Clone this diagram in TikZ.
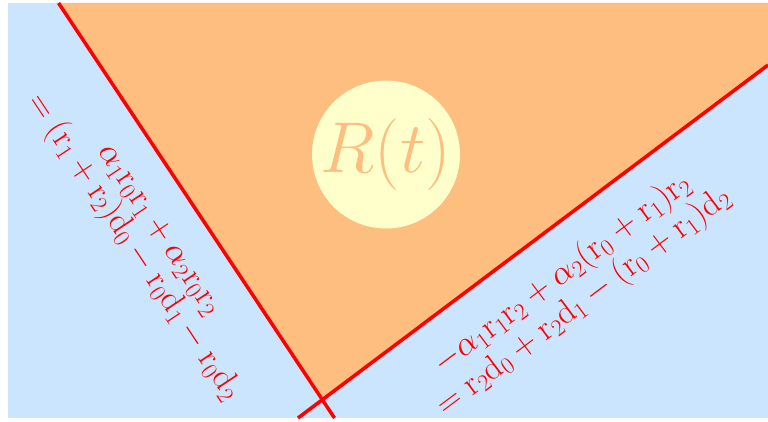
\RequirePackage{fix-cm}
\documentclass[tikz,border=0pt]{standalone}
\definecolor{bgblue}{RGB}{204,229,255}
\definecolor{regorange}{RGB}{253,190,128}
\definecolor{circyellow}{RGB}{255,255,204}
\definecolor{linered}{RGB}{255,0,0}
\tikzset{
  bound/.style={draw=linered, line width=3.5pt},
  eqlabel/.style={text=linered, align=center, inner sep=0pt, font=\fontsize{34}{31}\selectfont},
}
\begin{document}
\begin{tikzpicture}[x=1pt,y=-1pt]
\useasboundingbox (0,0) rectangle (768,422);
\fill[bgblue] (8,3) rectangle (768,418);
\coordinate (tl) at (58.5,3);
\coordinate (bl) at (334.5,418);
\coordinate (tr) at (768,65);
\coordinate (br) at (298,418);
\coordinate (x) at (322.8,399.7);
\fill[regorange] (tl) -- (768,3) -- (tr) -- (x) -- cycle;
\node[circle, fill=circyellow, minimum size=148pt, inner sep=0pt] (c) at (386,154.5) {};
\node[text=regorange, font=\fontsize{72}{80}\selectfont, inner sep=0pt] (rt) at (c.center) {$R(t)$};
\draw[bound] (tl) -- (bl);
\draw[bound] (br) -- (tr);
\node[eqlabel, rotate=-56.4] (lefteq) at (144,240)
  {$\alpha_1\mathrm{r}_0\mathrm{r}_1+\alpha_2\mathrm{r}_0\mathrm{r}_2$\\
   $=(\mathrm{r}_1+\mathrm{r}_2)\mathrm{d}_0-\mathrm{r}_0\mathrm{d}_1-\mathrm{r}_0\mathrm{d}_2$};
\node[eqlabel, rotate=36.9] (righteq) at (573,288)
  {$-\alpha_1\mathrm{r}_1\mathrm{r}_2+\alpha_2(\mathrm{r}_0+\mathrm{r}_1)\mathrm{r}_2$\\
   $=\mathrm{r}_2\mathrm{d}_0+\mathrm{r}_2\mathrm{d}_1-(\mathrm{r}_0+\mathrm{r}_1)\mathrm{d}_2$};
\end{tikzpicture}
\end{document}
